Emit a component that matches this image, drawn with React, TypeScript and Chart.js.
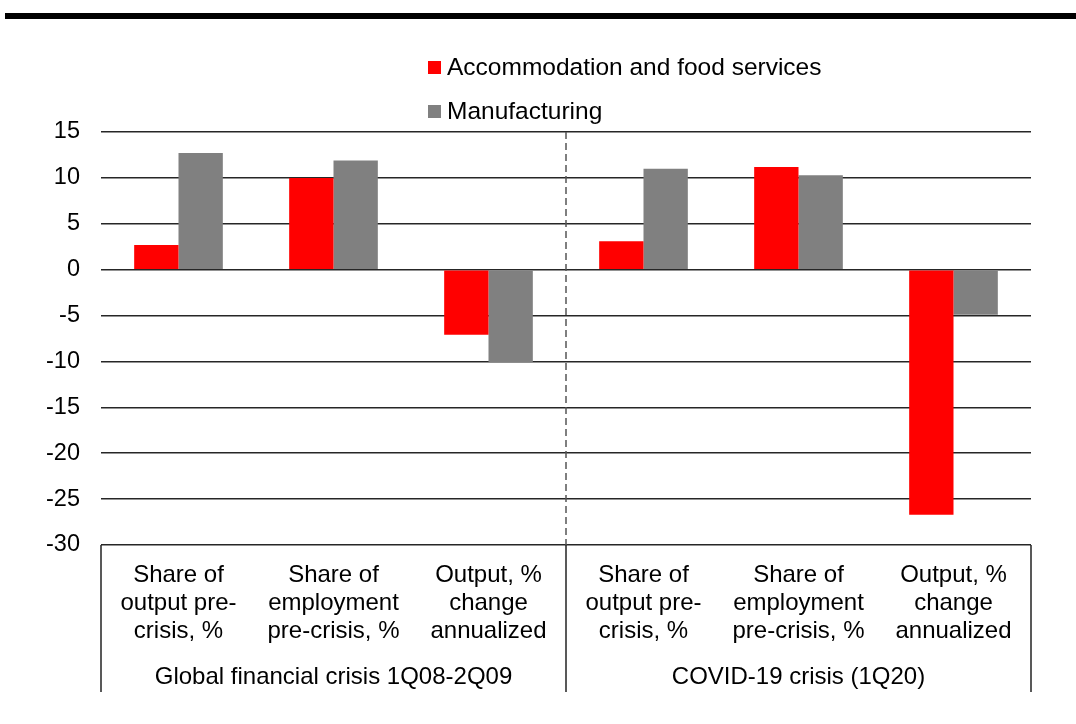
import React, { useEffect, useRef } from "react";
import { Chart, registerables } from "chart.js";

Chart.register(...registerables);

// ---- Data ----
const categoryLabels: string[][] = [
  ["Share of", "output pre-", "crisis, %"],
  ["Share of", "employment", "pre-crisis, %"],
  ["Output, %", "change", "annualized"],
  ["Share of", "output pre-", "crisis, %"],
  ["Share of", "employment", "pre-crisis, %"],
  ["Output, %", "change", "annualized"],
];
const groupLabels: string[] = ["Global financial crisis 1Q08-2Q09", "COVID-19 crisis (1Q20)"];
const groupSizes: number[] = [3, 3];
const seriesNames: string[] = ["Accommodation and food services", "Manufacturing"];
const accommodation: number[] = [2.7, 10.0, -7.1, 3.1, 11.2, -26.7];
const manufacturing: number[] = [12.7, 11.9, -10.1, 11.0, 10.3, -4.9];
const seriesColors: string[] = ["#FF0000", "#808080"];
const yMin = -30;
const yMax = 15;
const yStep = 5;

const FONT = "'Liberation Sans', Arial, Helvetica, sans-serif";

const decorPlugin = {
  id: "decor",
  afterDatasetsDraw(chart: any) {
    const { ctx, chartArea: ca, scales } = chart;
    const xs = scales.x;
    ctx.save();

    // thick top rule
    ctx.fillStyle = "#000";
    ctx.fillRect(5, 13, chart.width - 5, 6);

    // legend
    ctx.font = `24.5px ${FONT}`;
    ctx.textBaseline = "middle";
    ctx.textAlign = "left";
    const legendY = [61, 105];
    seriesNames.forEach((name, i) => {
      ctx.fillStyle = seriesColors[i];
      ctx.fillRect(428, legendY[i], 13, 13);
      ctx.fillStyle = "#000";
      ctx.fillText(name, 447, legendY[i] + 7);
    });

    // group boundaries
    const n = categoryLabels.length;
    const bounds: number[] = [ca.left];
    let idx = 0;
    groupSizes.forEach((s) => {
      idx += s;
      if (idx < n) {
        bounds.push((xs.getPixelForValue(idx - 1) + xs.getPixelForValue(idx)) / 2);
      } else {
        bounds.push(ca.right);
      }
    });

    const boxBottom = 692;

    // dashed separators inside the plot
    ctx.strokeStyle = "#555";
    ctx.lineWidth = 1.5;
    ctx.setLineDash([7, 4]);
    for (let i = 1; i < bounds.length - 1; i++) {
      ctx.beginPath();
      ctx.moveTo(bounds[i], ca.top);
      ctx.lineTo(bounds[i], ca.bottom);
      ctx.stroke();
    }
    ctx.setLineDash([]);

    // solid label box verticals
    ctx.strokeStyle = "#222";
    ctx.lineWidth = 1.5;
    bounds.forEach((b) => {
      ctx.beginPath();
      ctx.moveTo(b, ca.bottom);
      ctx.lineTo(b, boxBottom);
      ctx.stroke();
    });

    // category labels
    ctx.fillStyle = "#000";
    ctx.textAlign = "center";
    ctx.textBaseline = "alphabetic";
    ctx.font = `24px ${FONT}`;
    const lineBase = [582, 610, 638];
    categoryLabels.forEach((lines, i) => {
      const cx = xs.getPixelForValue(i);
      lines.forEach((t, j) => ctx.fillText(t, cx, lineBase[j]));
    });

    // group labels
    ctx.font = `24px ${FONT}`;
    groupLabels.forEach((g, i) => {
      const cx = (bounds[i] + bounds[i + 1]) / 2;
      ctx.fillText(g, cx, 684);
    });

    ctx.restore();
  },
};

export default function App() {
  const canvasRef = useRef<HTMLCanvasElement | null>(null);

  useEffect(() => {
    document.body.style.margin = "0";
    const canvas = canvasRef.current;
    if (!canvas) return;
    const chart = new Chart(canvas, {
      type: "bar",
      data: {
        labels: categoryLabels.map((l) => l.join(" ")),
        datasets: [
          {
            label: seriesNames[0],
            data: accommodation,
            backgroundColor: seriesColors[0],
            borderWidth: 0,
          },
          {
            label: seriesNames[1],
            data: manufacturing,
            backgroundColor: seriesColors[1],
            borderWidth: 0,
          },
        ],
      },
      options: {
        responsive: false,
        animation: false,
        maintainAspectRatio: false,
        layout: { padding: { top: 132, bottom: 179, left: 0, right: 45 } },
        datasets: { bar: { categoryPercentage: 0.572, barPercentage: 1.0 } },
        plugins: {
          legend: { display: false },
          tooltip: { enabled: false },
        },
        scales: {
          x: { type: "category", display: false },
          y: {
            min: yMin,
            max: yMax,
            ticks: {
              stepSize: yStep,
              color: "#000",
              padding: 21,
              font: { family: FONT, size: 23.5 },
            },
            grid: { color: "#262626", lineWidth: 1.5, drawTicks: false },
            border: { display: false },
            afterFit: (axis: any) => {
              axis.width = 101;
            },
          },
        },
      },
      plugins: [decorPlugin],
    });
    return () => chart.destroy();
  }, []);

  return (
    <div style={{ position: "absolute", left: 0, top: 0, width: 1076, height: 724, background: "#fff" }}>
      <canvas ref={canvasRef} width={1076} height={724} style={{ width: 1076, height: 724, display: "block" }} />
    </div>
  );
}
